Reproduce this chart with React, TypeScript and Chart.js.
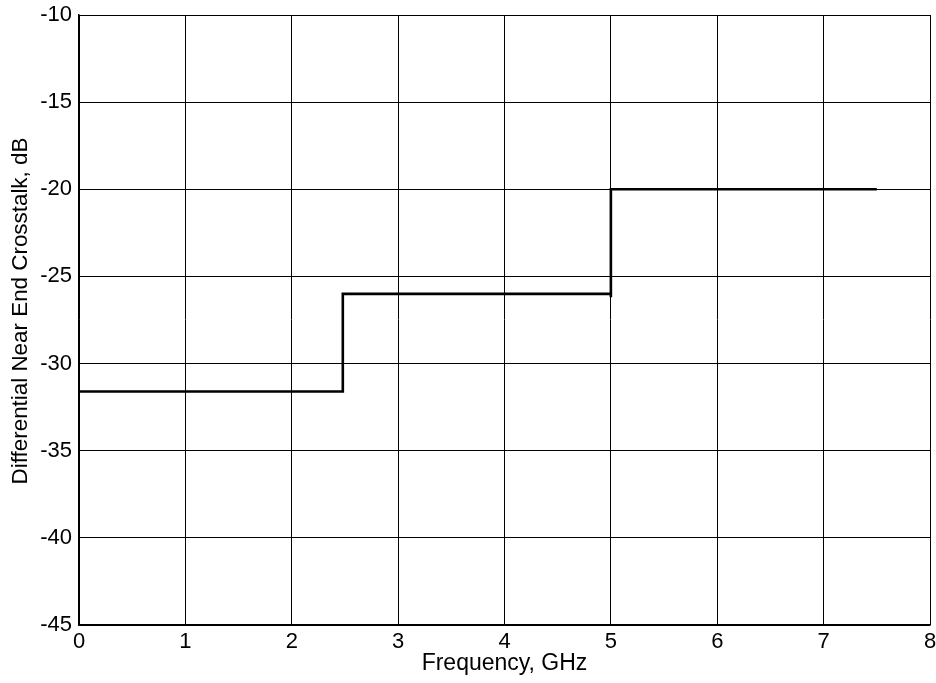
import React, { useEffect, useRef } from "react";
import { Chart, registerables } from "chart.js";

Chart.register(...registerables);

const xValues = [0, 2.48, 2.48, 5, 5, 5, 7.5];
const yValues = [-31.6, -31.6, -26, -26, -26.2, -20, -20];
const xTicks = [0, 1, 2, 3, 4, 5, 6, 7, 8];
const yTicks = [-45, -40, -35, -30, -25, -20, -15, -10];
const xLabel = "Frequency, GHz";
const yLabel = "Differential Near End Crosstalk, dB";

const FONT = "'Liberation Sans', Arial, Helvetica, sans-serif";

const yTitlePlugin = {
  id: "yTitle",
  afterDraw(chart: any) {
    const ctx = chart.ctx;
    ctx.save();
    ctx.translate(21, 311);
    ctx.rotate(-Math.PI / 2);
    ctx.font = `22.4px ${FONT}`;
    ctx.fillStyle = "#000";
    ctx.textAlign = "center";
    ctx.textBaseline = "middle";
    ctx.fillText(yLabel, 0, 0);
    ctx.restore();
  },
};

export default function App() {
  const ref = useRef<HTMLCanvasElement | null>(null);

  useEffect(() => {
    if (!ref.current) return;
    const chart = new Chart(ref.current, {
      type: "scatter",
      data: {
        datasets: [
          {
            data: xValues.map((x, i) => ({ x, y: yValues[i] })),
            showLine: true,
            borderColor: "#000000",
            borderWidth: 2.6,
            pointRadius: 0,
            fill: false,
            tension: 0,
          },
        ],
      },
      options: {
        animation: false,
        responsive: false,
        maintainAspectRatio: false,
        layout: { padding: { left: 0, right: 6, top: 15, bottom: 0 } },
        plugins: { legend: { display: false }, tooltip: { enabled: false } },
        scales: {
          x: {
            type: "linear",
            min: xTicks[0],
            max: xTicks[xTicks.length - 1],
            afterBuildTicks: (s: any) => {
              s.ticks = xTicks.map((v) => ({ value: v }));
            },
            afterFit: (s: any) => {
              s.height = 58;
              s.paddingLeft = 0;
              s.paddingRight = 0;
              s.paddingTop = 0;
              s.paddingBottom = 0;
            },
            ticks: {
              color: "#000",
              font: { family: FONT, size: 22 },
              padding: 4,
              maxRotation: 0,
              autoSkip: false,
            },
            grid: { color: "#000", lineWidth: 1, drawTicks: false },
            border: { color: "#000", width: 1.5 },
            title: {
              display: true,
              text: xLabel,
              color: "#000",
              font: { family: FONT, size: 23 },
              padding: { top: 0, bottom: 6 },
            },
          },
          y: {
            type: "linear",
            min: yTicks[0],
            max: yTicks[yTicks.length - 1],
            afterBuildTicks: (s: any) => {
              s.ticks = yTicks.map((v) => ({ value: v }));
            },
            afterFit: (s: any) => {
              s.width = 79;
              s.paddingLeft = 0;
              s.paddingRight = 0;
              s.paddingTop = 0;
              s.paddingBottom = 0;
            },
            ticks: {
              color: "#000",
              font: { family: FONT, size: 22 },
              padding: 7,
              autoSkip: false,
            },
            grid: { color: "#000", lineWidth: 1, drawTicks: false },
            border: { color: "#000", width: 1.5 },
            title: { display: false },
          },
        },
      },
      plugins: [yTitlePlugin],
    });
    return () => chart.destroy();
  }, []);

  return (
    <div style={{ position: "absolute", left: 0, top: 0, width: 936, height: 683, background: "#fff" }}>
      <canvas ref={ref} width={936} height={683} style={{ width: 936, height: 683, display: "block" }} />
    </div>
  );
}
